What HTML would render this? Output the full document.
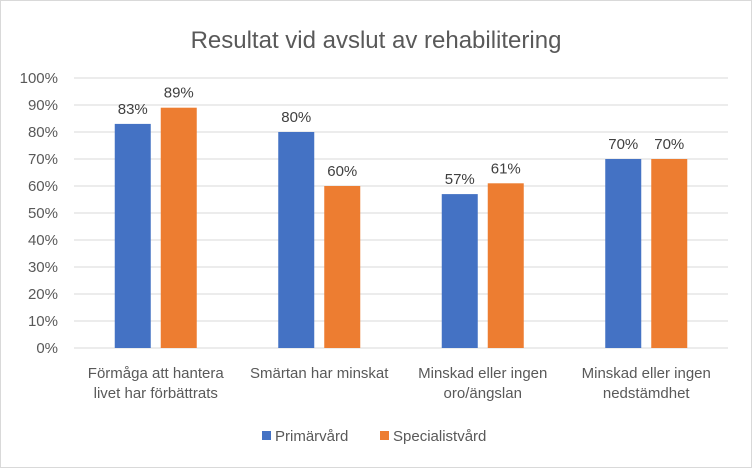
<!DOCTYPE html>
<html><head><meta charset="utf-8"><style>
body{margin:0;background:#fff;}
svg text{font-family:"Liberation Sans",sans-serif;}
</style></head><body>
<svg width="752" height="468" xmlns="http://www.w3.org/2000/svg">
<rect x="0.5" y="0.5" width="751" height="467" fill="#fff" stroke="#d9d9d9"/>
<text x="376" y="48" font-size="24" fill="#595959" text-anchor="middle">Resultat vid avslut av rehabilitering</text>
<g id="grid"></g><g id="bars"></g><g id="labels"></g>
<g>
<rect x="262" y="431" width="9" height="9" fill="#4472c4"/>
<text x="275" y="441" font-size="15" fill="#595959">Primärvård</text>
<rect x="380" y="431" width="9" height="9" fill="#ed7d31"/>
<text x="393" y="441" font-size="15" fill="#595959">Specialistvård</text>
</g>
</svg>
<script>
const categories=[["Förmåga att hantera","livet har förbättrats"],["Smärtan har minskat"],["Minskad eller ingen","oro/ängslan"],["Minskad eller ingen","nedstämdhet"]];
const primarvard=[83,80,57,70];
const specialistvard=[89,60,61,70];
const ticks=[0,10,20,30,40,50,60,70,80,90,100];
const NS="http://www.w3.org/2000/svg";
const L=74,R=728,T=78,B=348;
const y=v=>B-(v/100)*(B-T);
const band=(R-L)/categories.length;
const cx=i=>L+band*(i+0.5);
function mk(tag,attrs,parent){const e=document.createElementNS(NS,tag);for(const k in attrs)e.setAttribute(k,attrs[k]);parent.appendChild(e);return e;}
const grid=document.getElementById('grid'),bars=document.getElementById('bars'),labels=document.getElementById('labels');
ticks.forEach(t=>{
 const l=mk('line',{x1:L,x2:R,y1:y(t),y2:y(t),stroke:'#d9d9d9','stroke-width':1},grid);
 
 
 const tx=mk('text',{x:L-16,y:y(t)+5,'font-size':15,fill:'#595959','text-anchor':'end'},grid);
 tx.textContent=t+'%';
 
 
});
const bw=36,gap=10;
[[primarvard,'#4472c4','primarvard',-1],[specialistvard,'#ed7d31','specialistvard',1]].forEach(([arr,col,nm,side])=>{
 arr.forEach((v,i)=>{
  const x=side<0?cx(i)-gap/2-bw:cx(i)+gap/2;
  const r=mk('rect',{x:x,y:y(v),width:bw,height:B-y(v),fill:col},bars);
  
  
  const t=mk('text',{x:x+bw/2,y:y(v)-10,'font-size':15,fill:'#404040','text-anchor':'middle'},labels);
  t.textContent=v+'%';
  
  
 });
});
categories.forEach((c,i)=>{
 const t=mk('text',{x:cx(i),y:378,'font-size':15,fill:'#595959','text-anchor':'middle'},labels);
 
 
 c.forEach((ln,j)=>{const s=mk('tspan',{x:cx(i),dy:j?20:0},t);s.textContent=ln;});
});
</script>
</body></html>
